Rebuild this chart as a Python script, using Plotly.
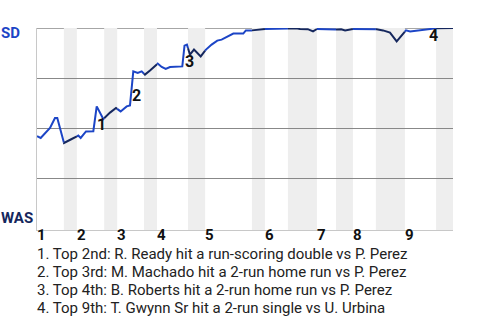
import numpy as np
import plotly.graph_objects as go

# ---- data ----
# half-inning boundaries (plate-appearance index scale)
half_bounds = [0, 6.2, 9.2, 15.5, 18.5, 24.7, 27.7, 34.85, 38.8, 49.6, 52.6, 57.9, 64.6, 69.0, 72.9, 78.2, 84.9, 92.1, 96]
innings = ["1", "2", "3", "4", "5", "6", "7", "8", "9"]

# win probability for SD (1 = SD wins, 0 = WAS wins)
wp_x = [0.00, 0.85, 3.00, 4.15, 4.68, 6.23, 8.01, 9.53, 10.08, 11.31, 13.0, 13.78, 15.3, 16.85, 18.23,
        19.3, 20.7, 21.46, 22.22, 23.24, 24.16, 24.92, 26.08, 27.85, 28.78, 29.7, 30.69, 33.53, 34.04,
        34.6, 35.3, 36.23, 37.78, 39.0, 40.3, 41.6, 42.6, 43.78, 45.3, 47.6, 48.2, 49.55, 51.0, 52.6,
        56.1, 57.9, 59.8, 60.7, 62.5, 63.7, 64.6, 69.2, 70.2, 71.1, 72.0, 72.7, 78.4, 79.85, 81.46,
        83.0, 85.15, 86.1, 88.4, 90.2, 91.4, 96.0]
wp_y = [0.459, 0.450, 0.500, 0.550, 0.550, 0.425, 0.445, 0.462, 0.450, 0.483, 0.484, 0.608, 0.545, 0.577, 0.600,
        0.583, 0.608, 0.613, 0.783, 0.775, 0.783, 0.767, 0.788, 0.822, 0.805, 0.795, 0.805, 0.808, 0.912,
        0.917, 0.867, 0.892, 0.858, 0.892, 0.917, 0.937, 0.942, 0.955, 0.972, 0.972, 0.988, 0.988, 0.992, 0.995,
        0.997, 0.998, 0.999, 0.995, 0.994, 0.983, 0.995, 0.992, 0.994, 0.988, 0.993, 0.995, 0.994, 0.988, 0.977,
        0.933, 0.988, 0.983, 0.988, 0.992, 0.998, 1.0]

# key events: label, x, y of label
event_labels = ["1", "2", "3", "4"]
event_x = [14.77, 23.0, 35.08, 91.4]
event_y = [0.517, 0.662, 0.832, 0.961]

event_texts = [
    "1. Top 2nd: R. Ready hit a run-scoring double vs P. Perez",
    "2. Top 3rd: M. Machado hit a 2-run home run vs P. Perez",
    "3. Top 4th: B. Roberts hit a 2-run home run vs P. Perez",
    "4. Top 9th: T. Gwynn Sr hit a 2-run single vs U. Urbina",
]

teams = ["SD", "WAS"]
SD_BLUE = "#1c45c6"
WAS_NAVY = "#15275d"

fig = go.Figure()

wx = np.array(wp_x)
wy = np.array(wp_y)

# bands for bottom halves
for i in range(1, len(half_bounds) - 1, 2):
    fig.add_shape(type="rect", xref="x", yref="y", x0=half_bounds[i], x1=half_bounds[i + 1],
                  y0=-0.01, y1=1.0, fillcolor="#eeeeee", line_width=0, layer="below")

# top border line
fig.add_shape(type="line", xref="paper", yref="y", x0=0, x1=1, y0=1, y1=1,
              line=dict(color="#888888", width=1.3), layer="below")

# line segments colored by batting team
for i in range(len(half_bounds) - 1):
    a, b = half_bounds[i], half_bounds[i + 1]
    mask = (wx > a) & (wx < b)
    xs = [a] + list(wx[mask]) + [b]
    ys = [float(np.interp(a, wx, wy))] + list(wy[mask]) + [float(np.interp(b, wx, wy))]
    fig.add_trace(go.Scatter(x=xs, y=ys, mode="lines",
                             line=dict(color=SD_BLUE if i % 2 == 0 else WAS_NAVY, width=2),
                             hoverinfo="skip", showlegend=False))

annotations = []
for lab, ex, ey in zip(event_labels, event_x, event_y):
    annotations.append(dict(x=ex, y=ey, xref="x", yref="y", text="<b>%s</b>" % lab, showarrow=False,
                            font=dict(family="Roboto", size=16, color="#111111"),
                            xanchor="center", yanchor="middle", borderpad=0))

# inning labels
for k, lab in enumerate(innings):
    annotations.append(dict(x=half_bounds[2 * k], y=-0.027, xref="x", yref="paper", text="<b>%s</b>" % lab,
                            showarrow=False, xanchor="left", yanchor="middle", xshift=-1, borderpad=0,
                            font=dict(family="Roboto", size=15, color="#111111")))

# team labels
annotations.append(dict(x=-0.088, y=0.975, xref="paper", yref="y", text="<b>%s</b>" % teams[0],
                        showarrow=False, xanchor="left", yanchor="middle", borderpad=0,
                        font=dict(family="Roboto", size=15, color=SD_BLUE)))
annotations.append(dict(x=-0.088, y=0.05, xref="paper", yref="y", text="<b>%s</b>" % teams[1],
                        showarrow=False, xanchor="left", yanchor="middle", borderpad=0,
                        font=dict(family="Roboto", size=15, color=WAS_NAVY)))

# event description lines
line_y = [-0.12, -0.208, -0.296, -0.384]
for t, ly in zip(event_texts, line_y):
    annotations.append(dict(x=0, y=ly, xref="paper", yref="paper", text=t, showarrow=False,
                            xanchor="left", yanchor="middle", xshift=-1, borderpad=0,
                            font=dict(family="Roboto", size=15, color="#222222")))

fig.update_layout(
    width=480, height=320,
    margin=dict(l=37, r=27, t=28, b=90),
    paper_bgcolor="white", plot_bgcolor="white",
    xaxis=dict(range=[0, 96], showgrid=False, zeroline=False, showticklabels=False,
               showline=True, linecolor="#c8c8c8", linewidth=1.3, ticks=""),
    yaxis=dict(range=[-0.01, 1.0], tickvals=[0.25, 0.5, 0.75], showticklabels=False,
               showgrid=True, gridcolor="#888888", gridwidth=1.3, zeroline=False,
               showline=True, linecolor="#c8c8c8", linewidth=1.3, ticks=""),
    annotations=annotations,
    showlegend=False,
)

fig.write_html("out.html")
